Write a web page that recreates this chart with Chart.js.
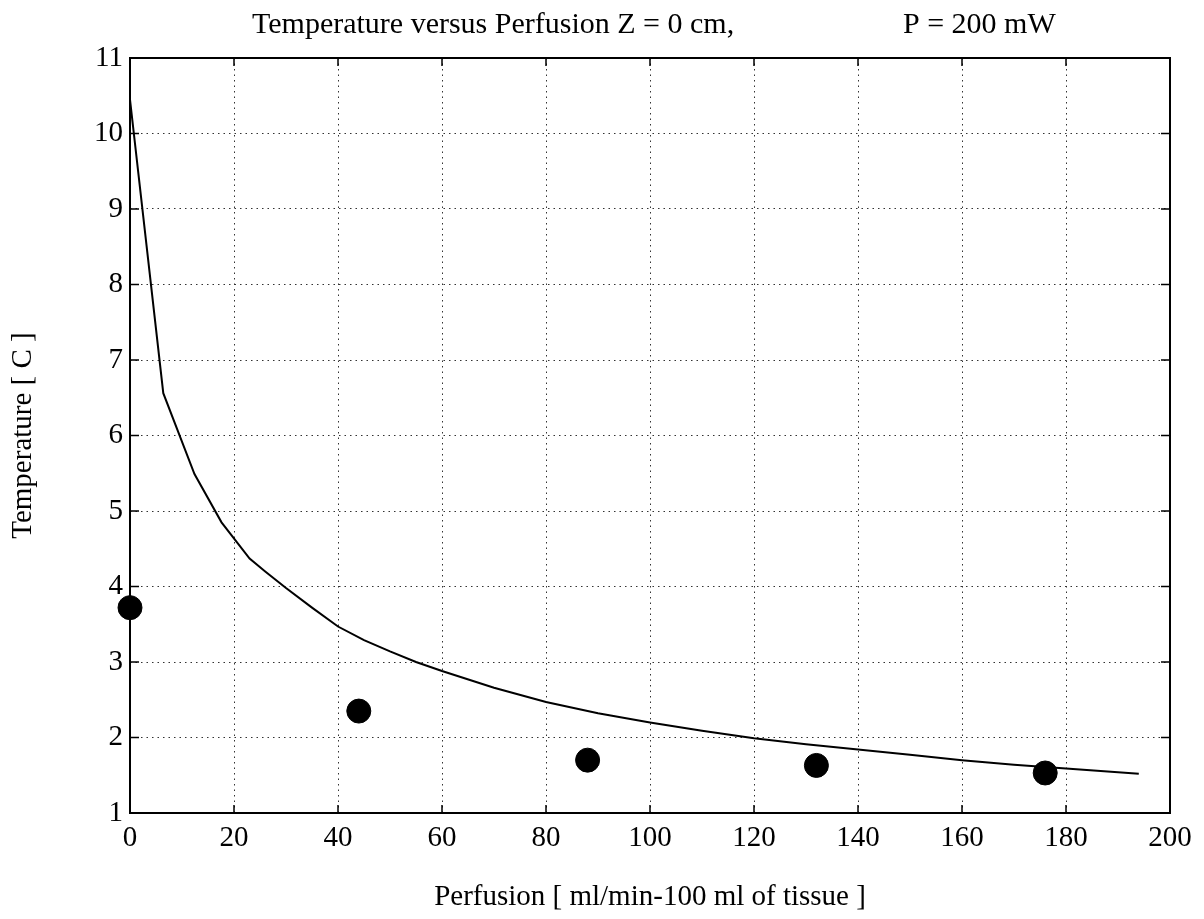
<!DOCTYPE html>
<html>
<head>
<meta charset="utf-8">
<title>Temperature versus Perfusion</title>
<script src="https://cdn.jsdelivr.net/npm/chart.js@4"></script>
<style>
  html, body { margin: 0; padding: 0; background: #fff; }
  canvas { display: block; }
</style>
</head>
<body>
<canvas id="perfusionChart" width="1204" height="919"></canvas>
<script>
// model curve
const perfusionCurve = [0, 6.4, 12.4, 17.6, 23, 26, 30, 35, 40, 45, 50, 55, 60, 70, 80, 90, 100, 110, 120, 130, 140, 150, 160, 170, 180, 194];
const temperatureCurve = [10.45, 6.56, 5.49, 4.85, 4.37, 4.2, 3.98, 3.72, 3.47, 3.29, 3.14, 3.0, 2.88, 2.66, 2.47, 2.32, 2.2, 2.09, 1.99, 1.91, 1.84, 1.77, 1.7, 1.64, 1.59, 1.52];

// measured points
const perfusionMeasured = [0, 44, 88, 132, 176];
const temperatureMeasured = [3.72, 2.35, 1.7, 1.63, 1.53];

// axis ticks
const xTicks = [0, 20, 40, 60, 80, 100, 120, 140, 160, 180, 200];
const yTicks = [1, 2, 3, 4, 5, 6, 7, 8, 9, 10, 11];

const titleLeft = 'Temperature versus Perfusion Z = 0 cm,';
const titleRight = 'P = 200 mW';

const serif = '"Liberation Serif", "Times New Roman", serif';

// frame, inward ticks and the two-part title
const framePlugin = {
    id: 'frame',
    afterDatasetsDraw(chart) {
        const { ctx, chartArea: a, scales: { x, y } } = chart;
        ctx.save();
        ctx.strokeStyle = '#000';
        ctx.lineWidth = 1.5;
        xTicks.forEach(v => {
            const px = x.getPixelForValue(v);
            ctx.beginPath();
            ctx.moveTo(px, a.bottom); ctx.lineTo(px, a.bottom - 8);
            ctx.moveTo(px, a.top); ctx.lineTo(px, a.top + 8);
            ctx.stroke();
        });
        yTicks.forEach(v => {
            const py = y.getPixelForValue(v);
            ctx.beginPath();
            ctx.moveTo(a.left, py); ctx.lineTo(a.left + 9, py);
            ctx.moveTo(a.right, py); ctx.lineTo(a.right - 9, py);
            ctx.stroke();
        });
        ctx.lineWidth = 2;
        ctx.strokeRect(a.left, a.top, a.right - a.left, a.bottom - a.top);

        ctx.fillStyle = '#000';
        ctx.font = '30px ' + serif;
        ctx.textBaseline = 'alphabetic';
        ctx.textAlign = 'left';
        ctx.fillText(titleLeft, 252, 33);
        ctx.fillText(titleRight, 903, 33);
        ctx.restore();
    }
};

new Chart(document.getElementById('perfusionChart'), {
    type: 'scatter',
    data: {
        datasets: [{
            label: 'Model',
            data: perfusionCurve.map((p, i) => ({ x: p, y: temperatureCurve[i] })),
            showLine: true,
            borderColor: '#000',
            borderWidth: 2,
            pointRadius: 0,
            tension: 0,
        }, {
            label: 'Measured',
            data: perfusionMeasured.map((p, i) => ({ x: p, y: temperatureMeasured[i] })),
            showLine: false,
            backgroundColor: '#000',
            borderColor: '#000',
            pointRadius: 12,
            clip: false,
        }]
    },
    options: {
        responsive: false,
        animation: false,
        layout: { padding: { top: 58, right: 34, left: 0, bottom: 0 } },
        plugins: {
            legend: { display: false },
            tooltip: { enabled: false },
        },
        scales: {
            x: {
                type: 'linear',
                min: 0,
                max: 200,
                afterFit(scale) { scale.height = 106; },
                afterBuildTicks(scale) { scale.ticks = xTicks.map(v => ({ value: v })); },
                ticks: { color: '#000', font: { family: serif, size: 29 }, padding: 8, maxRotation: 0 },
                grid: { color: '#333', lineWidth: 1, drawTicks: false },
                border: { display: false, dash: [1.5, 4] },
                title: {
                    display: true,
                    text: 'Perfusion [ ml/min-100 ml of tissue ]',
                    color: '#000',
                    font: { family: serif, size: 29 },
                    padding: { top: 0, bottom: 4 },
                },
            },
            y: {
                type: 'linear',
                min: 1,
                max: 11,
                afterFit(scale) { scale.width = 130; },
                afterBuildTicks(scale) { scale.ticks = yTicks.map(v => ({ value: v })); },
                ticks: { color: '#000', font: { family: serif, size: 29 }, padding: 7 },
                grid: { color: '#333', lineWidth: 1, drawTicks: false },
                border: { display: false, dash: [1.5, 4] },
                title: {
                    display: true,
                    text: 'Temperature [ C ]',
                    color: '#000',
                    font: { family: serif, size: 29 },
                    padding: { top: 6, bottom: 0 },
                },
            },
        },
    },
    plugins: [framePlugin],
});
</script>
</body>
</html>
